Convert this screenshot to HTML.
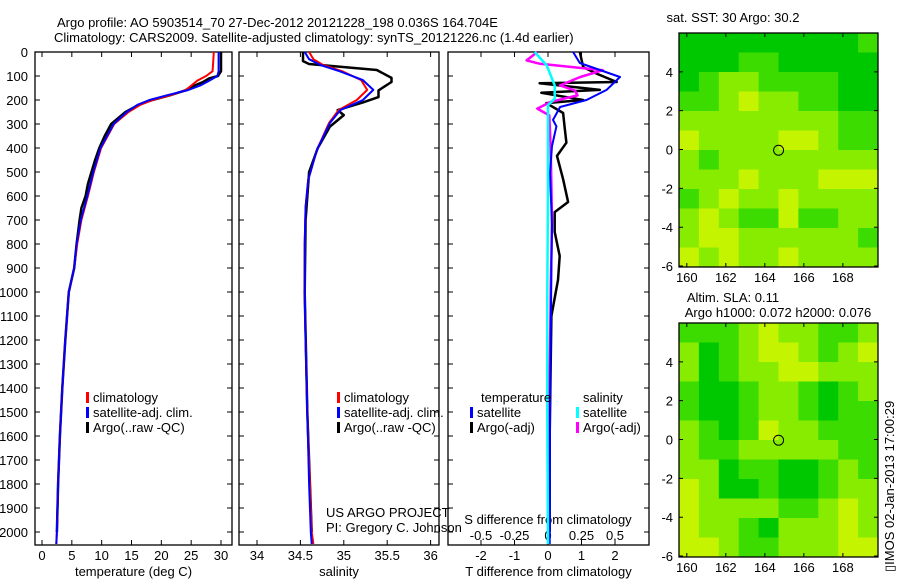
<!DOCTYPE html>
<html><head><meta charset="utf-8"><style>
html,body{margin:0;padding:0;background:#fff;}
svg text{font-family:"Liberation Sans",sans-serif;font-size:13px;fill:#000;}
</style></head><body>
<svg id="c" width="900" height="580" xmlns="http://www.w3.org/2000/svg">
<text x="57" y="27">Argo profile: AO 5903514_70 27-Dec-2012 20121228_198 0.036S 164.704E</text>
<text x="54" y="42">Climatology: CARS2009. Satellite-adjusted climatology: synTS_20121226.nc (1.4d earlier)</text>
<text x="326" y="517">US ARGO PROJECT</text>
<text x="326" y="532">PI: Gregory C. Johnson</text>
<text x="548" y="524" text-anchor="middle">S difference from climatology</text>
<text x="733" y="22" text-anchor="middle">sat. SST: 30 Argo: 30.2</text>
<text x="733" y="302" text-anchor="middle">Altim. SLA: 0.11</text>
<text x="778" y="317" text-anchor="middle">Argo h1000: 0.072 h2000: 0.076</text>
<text x="0" y="0" transform="translate(894,572) rotate(-90)">▯IMOS 02-Jan-2013 17:00:29</text>
</svg>
<script>
// ---- data ----
const depths = [0,80,100,120,140,160,180,200,220,250,300,400,500,600,700,800,900,1000,1200,1400,1600,1800,2000,2050];
const tempSat = [29.6,29.6,29.4,28,26.5,24.3,21,18,16,14.2,12,9.8,8.6,7.6,6.5,5.8,5.4,4.5,3.9,3.4,3.0,2.7,2.5,2.4];
const tempClim = [28.8,28.6,27.5,26,25,24,21.5,18.5,16.5,14.5,12.1,9.9,8.7,7.7,6.6,5.9,5.4,4.5,3.9,3.4,3.0,2.7,2.5,2.4];
const argoDepths = [0,40,80,100,110,125,140,160,180,200,220,250,300,350,400,450,500,550,600,650,700,800,900,1000,1200,1400,1600,1800,2000];
const tempArgo = [30.0,30.0,30.0,29.5,28,27,25.5,24,21.5,18.5,16.2,14,11.6,10.5,9.6,8.9,8.3,7.7,7.3,6.6,6.3,5.8,5.4,4.5,3.9,3.4,3.0,2.7,2.5];
const salDepths = [0,30,54,80,117,158,200,242,296,408,533,645,800,1000,1200,1500,1800,2000,2050];
const salSat = [34.55,34.6,34.73,34.95,35.22,35.34,35.22,34.96,34.84,34.69,34.59,34.56,34.55,34.55,34.56,34.58,34.6,34.62,34.63];
const salClim = [34.6,34.65,34.76,34.98,35.2,35.27,35.15,34.94,34.83,34.69,34.59,34.56,34.55,34.55,34.56,34.58,34.61,34.63,34.65];
const salArgoDepths = [0,38,50,75,108,125,160,188,210,242,263,311,400,500,700,1000,1500,2000];
const salArgo = [34.53,34.53,34.6,35.38,35.55,35.55,35.4,35.4,35.22,34.93,35.0,34.84,34.7,34.6,34.56,34.55,34.58,34.63];
const tdDepths = [0,46,104,158,200,229,283,310,392,504,725,900,1200,1500,1800,2050];
const tdiffSat = [0.75,0.95,2.15,1.75,1.15,0.36,0.15,0.25,0.12,0.06,0.12,0.1,0.08,0.06,0.05,0.05];
const taDepths = [0,63,90,125,130,158,170,200,213,254,320,378,433,530,625,667,750,850,950,1100,1300,1600,2000];
const tdiffArgo = [0.95,1.05,1.45,2.05,-0.25,1.55,-0.2,1.05,-0.05,0.45,0.5,0.55,0.27,0.45,0.6,0.2,0.2,0.35,0.3,0.1,0.08,0.05,0.05];
const saDepths = [0,35,49,76,104,139,160,181,208,236,264,400,700,1000,1500,2000];
const sdiffArgo = [-0.08,-0.16,-0.06,0.41,0.24,0.09,0.2,0.22,0.02,-0.08,0.01,0.02,0.03,0.02,0.01,0.01];
const ssDepths = [0,56,139,194,222,292,600,1000,1500,2050];
const sdiffSat = [-0.1,-0.01,0.05,0.05,0,0,0,-0.005,-0.005,0];
const depthTicks = [0,100,200,300,400,500,600,700,800,900,1000,1100,1200,1300,1400,1500,1600,1700,1800,1900,2000];
const tempTicks = [0,5,10,15,20,25,30];
const salTicks = [34,34.5,35,35.5,36];
const tdTicks = [-2,-1,0,1,2];
const sdTicks = [-0.5,-0.25,0,0.25,0.5];
const sdTickLabels = ["-0.5","-0.25","0","0.25","0.5"];
const lonTicks = [160,162,164,166,168];
const latTicks = [4,2,0,-2,-4,-6];
const sstGrid = [
[0,0,0,0,0,0,0,0,0,1],
[0,0,0,1,1,0,0,0,0,0],
[0,1,2,2,1,1,1,1,0,0],
[1,1,2,3,2,2,1,1,0,0],
[2,2,2,2,2,2,2,2,1,1],
[3,2,2,2,2,3,3,2,1,1],
[2,1,2,2,2,2,2,2,2,2],
[2,2,2,3,2,2,2,3,3,3],
[1,2,3,2,2,3,2,2,2,2],
[2,3,2,1,1,3,1,1,2,2],
[2,3,3,2,2,2,2,2,2,1],
[3,2,3,2,2,3,2,2,2,2]];
const slaGrid = [
[1,1,1,2,3,2,2,1,1,2],
[2,0,1,2,3,3,2,1,2,3],
[2,0,1,2,2,3,3,2,2,2],
[1,0,0,1,2,2,1,0,1,2],
[1,0,0,1,2,2,1,0,1,1],
[2,1,0,1,3,2,2,1,1,1],
[2,1,1,2,2,2,2,2,1,1],
[2,2,0,1,1,0,0,1,2,1],
[3,2,0,0,1,0,0,1,2,2],
[3,2,2,2,2,1,1,2,3,2],
[3,2,2,1,0,2,2,2,3,2],
[3,3,2,1,1,2,2,2,3,3]];
const floatLon = 164.704, floatLat = -0.036;

// ---- drawing ----
const svg = document.getElementById('c');
const NS = 'http://www.w3.org/2000/svg';
function mk(tag, attrs, parent){const e=document.createElementNS(NS,tag);for(const k in attrs)e.setAttribute(k,attrs[k]);(parent||svg).appendChild(e);return e;}
const Y0=52, Y1=545, DMAX=2054;
const yD = d => Y0 + (Y1-Y0)*d/DMAX;
function lin(d0,d1,p0,p1){return v=>p0+(p1-p0)*(v-d0)/(d1-d0);}
const xT = lin(0,30,42,221);
const xS = lin(34,36,257,430.6);
const xTD = lin(0,1,548,581.5);
const xSD = lin(0,1,548,682);

function panel(name,x0,x1,xf,ticks,labels,title,extraTop){
  const g=mk('g',{});
  
  
  const r=mk('rect',{x:x0,y:Y0,width:x1-x0,height:Y1-Y0,fill:'none',stroke:'#000','stroke-width':1.3},g);
  
  
  depthTicks.forEach(d=>{
    const t=mk('path',{d:`M${x0},${yD(d)}h5M${x1},${yD(d)}h-5`,stroke:'#000'},g);
    
    
  });
  ticks.forEach((v,i)=>{
    const t=mk('path',{d:`M${xf(v)},${Y0}v5M${xf(v)},${Y1}v-5`,stroke:'#000'},g);
    
    
    const l=mk('text',{x:xf(v),y:560,'text-anchor':'middle'},g);
    l.textContent=labels[i];
    
    
  });
  const tt=mk('text',{x:(x0+x1)/2,y:576,'text-anchor':'middle'},g);
  tt.textContent=title;
  
  
  return g;
}
function line(g,ds,vs,xf,color,name,w){
  let p='';
  ds.forEach((d,i)=>{p+=(i?'L':'M')+xf(vs[i]).toFixed(1)+','+yD(d).toFixed(1);});
  const e=mk('path',{d:p,fill:'none',stroke:color,'stroke-width':w||2,'stroke-linejoin':'round'},g);
  
  
}
function legend(g,x,y,color,label){
  const m=mk('rect',{x:x,y:y-10,width:3,height:11,fill:color},g);
  
  
  const t=mk('text',{x:x+7,y:y},g);
  t.textContent=label;
  
  
}
// depth labels
depthTicks.forEach(d=>{
  const t=mk('text',{x:28,y:yD(d)+5,'text-anchor':'end'});
  t.textContent=d;
  
  
});
// panel 1
const g1=panel('temperature-panel',35,232,xT,tempTicks,tempTicks.map(String),'temperature (deg C)');
line(g1,argoDepths,tempArgo,xT,'#000','argo-temperature-line',2.5);
line(g1,depths,tempClim,xT,'#f00','climatology-temperature-line');
line(g1,depths,tempSat,xT,'#00f','satellite-temperature-line');
legend(g1,86,402,'#f00','climatology');legend(g1,86,417,'#00f','satellite-adj. clim.');legend(g1,86,432,'#000','Argo(..raw -QC)');
// panel 2
const g2=panel('salinity-panel',239,439,xS,salTicks,salTicks.map(String),'salinity');
line(g2,salArgoDepths,salArgo,xS,'#000','argo-salinity-line',2.5);
line(g2,salDepths,salClim,xS,'#f00','climatology-salinity-line');
line(g2,salDepths,salSat,xS,'#00f','satellite-salinity-line');
legend(g2,337,402,'#f00','climatology');legend(g2,337,417,'#00f','satellite-adj. clim.');legend(g2,337,432,'#000','Argo(..raw -QC)');
// panel 3
const g3=panel('difference-panel',448,649,xTD,tdTicks,tdTicks.map(String),'T difference from climatology');
sdTicks.forEach((v,i)=>{
  const l=mk('text',{x:xSD(v),y:540,'text-anchor':'middle'},g3);
  l.textContent=sdTickLabels[i];
  
  
  const t=mk('path',{d:`M${xSD(v)},${Y1}v-5`,stroke:'#000'},g3);
  
  
});
line(g3,taDepths,tdiffArgo,xTD,'#000','argo-tdiff-line',2.5);
line(g3,saDepths,sdiffArgo,xSD,'#f0f','argo-sdiff-line',2.5);
line(g3,tdDepths,tdiffSat,xTD,'#00f','satellite-tdiff-line');
line(g3,ssDepths,sdiffSat,xSD,'#0ff','satellite-sdiff-line',2.5);
{const t=mk('text',{x:481,y:402},g3);t.textContent='temperature';
 const s=mk('text',{x:583,y:402},g3);s.textContent='salinity';}
legend(g3,470,417,'#00f','satellite');legend(g3,470,432,'#000','Argo(-adj)');
legend(g3,576,417,'#0ff','satellite');legend(g3,576,432,'#f0f','Argo(-adj)');

// maps
const palette=['#00c800','#3cdc00','#88ec00','#c4f400'];
function map(name,top,grid){
  const L=679,R=878,B=top+234;
  const xL=lin(159.6,169.8,L,R), yL=lin(6,-6.05,top,B);
  const g=mk('g',{});
  
  
  const rows=grid.length, cols=grid[0].length;
  grid.forEach((row,i)=>row.forEach((v,j)=>{
    const lo0=159.6+j*10.2/cols, lo1=159.6+(j+1)*10.2/cols;
    const la0=6-i*12.05/rows, la1=6-(i+1)*12.05/rows;
    const c=mk('rect',{x:xL(lo0),y:yL(la0),width:xL(lo1)-xL(lo0)+0.5,height:yL(la1)-yL(la0)+0.5,fill:palette[v]},g);
    
    
  }));
  const fr=mk('rect',{x:L,y:top,width:R-L,height:B-top,fill:'none',stroke:'#000','stroke-width':1.3},g);
  
  
  lonTicks.forEach(v=>{
    const t=mk('path',{d:`M${xL(v)},${top}v4M${xL(v)},${B}v-4`,stroke:'#000'},g);
    
    
    const l=mk('text',{x:xL(v),y:B+15,'text-anchor':'middle'},g);
    l.textContent=v;
    
    
  });
  latTicks.forEach(v=>{
    const t=mk('path',{d:`M${L},${yL(v)}h4M${R},${yL(v)}h-4`,stroke:'#000'},g);
    
    
    const l=mk('text',{x:673,y:yL(v)+5,'text-anchor':'end'},g);
    l.textContent=v;
    
    
  });
  const m=mk('circle',{cx:xL(floatLon),cy:yL(floatLat),r:5,fill:'none',stroke:'#000'},g);
  
  
}
map('sst-map',33,sstGrid);
map('sla-map',323,slaGrid);
</script>
</body></html>
